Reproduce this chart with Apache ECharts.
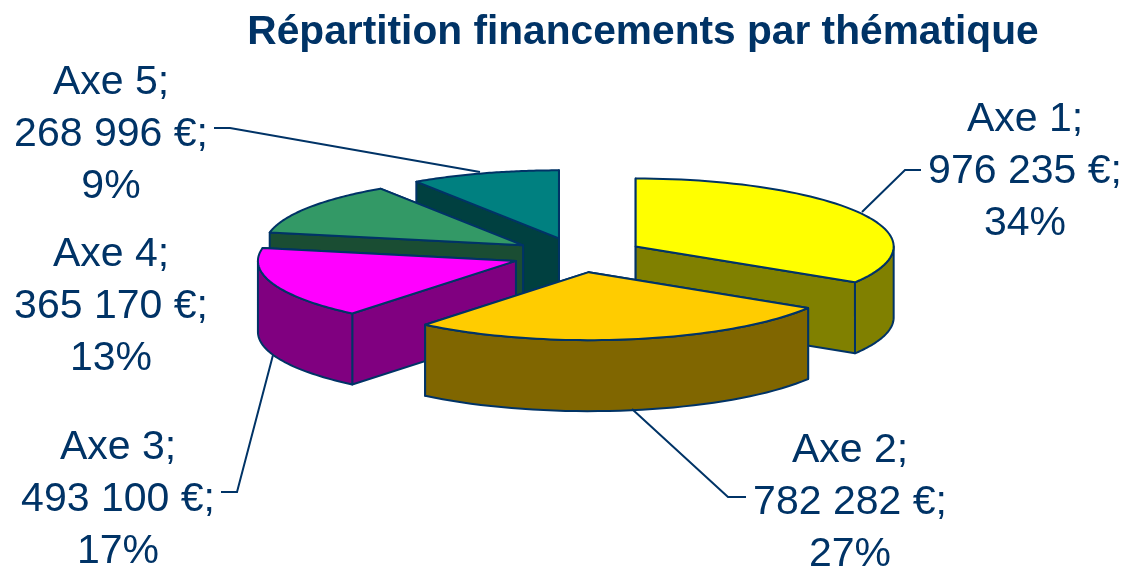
<!DOCTYPE html>
<html>
<head>
<meta charset="utf-8">
<title>Répartition financements par thématique</title>
<script src="https://cdn.jsdelivr.net/npm/echarts@6/dist/echarts.min.js"></script>
<style>
  html, body { margin: 0; padding: 0; background: #fff; }
  #main { width: 1126px; height: 568px; }
</style>
</head>
<body>
<div id="main"></div>
<script>
const categories = ['Axe 1', 'Axe 2', 'Axe 3', 'Axe 4', 'Axe 5']
const amounts = [976235, 782282, 493100, 365170, 268996]
const topColors = ['#FFFF00', '#FFCC00', '#FF00FF', '#339966', '#008080']
const sideColors = ['#808000', '#806600', '#800080', '#1A4D33', '#004040']
// back slices first so the front ones cover them
const paintOrder = [4, 3, 2, 0, 1]

const navy = '#003366'
const font = '"Liberation Sans", Arial, sans-serif'
const pie = { cx: 578, cy: 255, rx: 258, ry: 68, depth: 71, explode: 66 }
// where each label sits (centre of the 3 lines) and its leader line
const labelAt = [[1025, 172], [850, 503], [118, 500], [111, 307], [111, 135]]
const leaders = [
  [[862, 212], [905, 170], [921, 170]],
  [[632, 409], [728, 497], [746, 497]],
  [[273, 355], [237, 492], [221, 492]],
  null,
  [[480, 172], [230, 128], [214, 128]]
]

const total = amounts.reduce((a, b) => a + b, 0)
const starts = []
amounts.reduce((acc, v, i) => { starts[i] = acc; return acc + v }, 0)

function money(v) {
  return String(v).replace(/\B(?=(\d{3})+$)/g, ' ') + ' €'
}

function rim(ox, oy, deg, dy) {
  const a = deg * Math.PI / 180
  return [ox + pie.rx * Math.sin(a), oy - pie.ry * Math.cos(a) + (dy || 0)]
}

function poly(points, fill) {
  return {
    type: 'polygon',
    shape: { points },
    style: { fill, stroke: navy, lineWidth: 2, lineJoin: 'round' }
  }
}

function renderSlice(params, api) {
  const i = api.value(0)
  const a0 = starts[i] / total * 360
  const a1 = (starts[i] + amounts[i]) / total * 360
  const mid = (a0 + a1) / 2 * Math.PI / 180
  const ox = pie.cx + pie.explode * Math.sin(mid)
  const oy = pie.cy - pie.explode * Math.cos(mid) * pie.ry / pie.rx
  const d = pie.depth
  const side = sideColors[i]
  const children = []

  // radial walls, the higher one first
  const walls = [a0, a1].map((a) => {
    const p = rim(ox, oy, a)
    return { y: p[1], pts: [[ox, oy], p, [p[0], p[1] + d], [ox, oy + d]] }
  }).sort((u, v) => u.y - v.y)
  walls.forEach((w) => children.push(poly(w.pts, side)))

  // outer wall, only the part turned to the viewer
  const w0 = Math.max(a0, 90)
  const w1 = Math.min(a1, 270)
  if (w1 > w0) {
    const upper = []
    const lower = []
    for (let a = w0; a <= w1 + 0.01; a += (w1 - w0) / 40) {
      upper.push(rim(ox, oy, a))
      lower.unshift(rim(ox, oy, a, d))
    }
    children.push(poly(upper.concat(lower), side))
  }

  // top face
  const top = [[ox, oy]]
  for (let a = a0; a <= a1 + 0.01; a += (a1 - a0) / 60) top.push(rim(ox, oy, a))
  children.push(poly(top, topColors[i]))

  return { type: 'group', children }
}

function renderLabel(params, api) {
  const i = api.value(0)
  const pct = Math.round(amounts[i] / total * 100)
  const children = [{
    type: 'text',
    style: {
      x: labelAt[i][0],
      y: labelAt[i][1],
      text: categories[i] + ';\n' + money(amounts[i]) + ';\n' + pct + '%',
      fill: navy,
      font: '41px ' + font,
      lineHeight: 52,
      align: 'center',
      verticalAlign: 'middle'
    }
  }]
  if (leaders[i]) {
    children.push({
      type: 'polyline',
      shape: { points: leaders[i] },
      style: { fill: 'none', stroke: navy, lineWidth: 2 }
    })
  }
  return { type: 'group', children }
}

const chart = echarts.init(document.getElementById('main'), null, { renderer: 'canvas' })
chart.setOption({
  animation: false,
  backgroundColor: '#fff',
  title: {
    text: 'Répartition financements par thématique',
    left: 638,
    top: 7,
    textAlign: 'center',
    textStyle: { color: navy, fontFamily: font, fontWeight: 'bold', fontSize: 40.7 }
  },
  series: [
    {
      type: 'custom',
      coordinateSystem: 'none',
      renderItem: renderSlice,
      data: paintOrder.map((i) => [i]),
      silent: true
    },
    {
      type: 'custom',
      coordinateSystem: 'none',
      renderItem: renderLabel,
      data: categories.map((c, i) => [i]),
      silent: true
    }
  ]
})
</script>
</body>
</html>
